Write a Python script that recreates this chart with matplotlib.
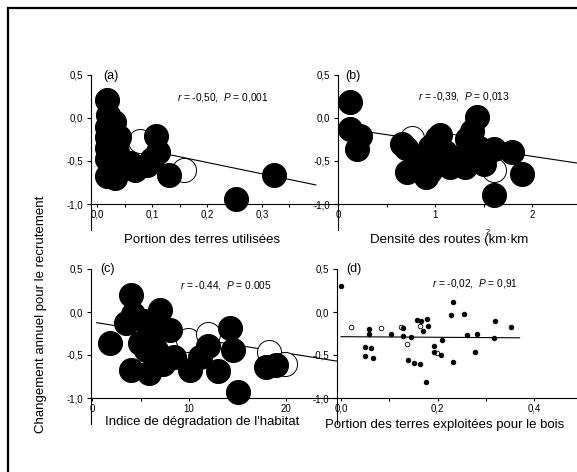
import matplotlib
matplotlib.use('Agg')
import matplotlib.pyplot as plt
from matplotlib.ticker import FixedLocator
from matplotlib.patches import Rectangle
import numpy as np

plt.rcParams['font.family'] = ['Liberation Sans', 'DejaVu Sans']
plt.rcParams['mathtext.fontset'] = 'custom'
plt.rcParams['mathtext.rm'] = 'Liberation Sans'
plt.rcParams['mathtext.it'] = 'Liberation Sans:italic'

# ---------------- data ----------------
# (a) Portion des terres utilisées
a_x_black = [0.017, 0.019, 0.017, 0.017, 0.025, 0.017, 0.030, 0.017, 0.025, 0.017, 0.032, 0.035,
             0.030, 0.035, 0.068, 0.060, 0.107, 0.100, 0.090, 0.110, 0.131, 0.253, 0.321, 0.020, 0.040]
a_y_black = [0.21, 0.03, -0.10, -0.22, -0.15, -0.35, -0.30, -0.48, -0.55, -0.68, -0.70, -0.40,
             -0.05, -0.62, -0.60, -0.52, -0.21, -0.48, -0.55, -0.40, -0.66, -0.94, -0.66, -0.27, -0.22]
a_x_open = [0.077, 0.158]
a_y_open = [-0.27, -0.60]
a_fit = (-0.253, -1.32, 0.01, 0.398)   # intercept, slope, x from, x to

# (b) Densité des routes
b_x_black = [0.12, 0.12, 0.22, 0.19, 0.66, 0.70, 0.71, 0.90, 0.85, 0.95, 1.02, 1.05, 1.15, 1.31,
             1.43, 1.38, 1.45, 1.50, 1.60, 1.79, 1.89, 1.60, 0.95, 1.10, 1.25, 0.80, 1.40, 1.05, 1.33]
b_y_black = [0.19, -0.13, -0.21, -0.36, -0.30, -0.35, -0.63, -0.69, -0.48, -0.34, -0.23, -0.50, -0.57, -0.57,
             0.01, -0.15, -0.35, -0.53, -0.36, -0.40, -0.65, -0.90, -0.62, -0.40, -0.45, -0.55, -0.45, -0.20, -0.25]
b_x_open = [0.76, 1.17, 1.60]
b_y_open = [-0.23, -0.33, -0.61]
b_fit = (-0.11, -0.168, 0.10, 2.9)

# (c) Indice de dégradation de l'habitat
c_x_black = [1.8, 4.05, 3.5, 4.05, 5.3, 5.9, 7.0, 6.3, 4.9, 8.0, 7.3, 8.4, 10.1, 11.1, 12.0,
             14.2, 14.5, 13.0, 15.1, 18.0, 19.0, 5.6, 4.2, 6.6, 5.9]
c_y_black = [-0.36, 0.20, -0.13, -0.67, -0.11, -0.71, 0.02, -0.17, -0.36, -0.21, -0.60, -0.52, -0.67, -0.52, -0.40,
             -0.19, -0.44, -0.69, -0.93, -0.64, -0.62, -0.44, -0.02, -0.44, -0.25]
c_x_open = [9.9, 12.0, 18.3, 19.9]
c_y_open = [-0.33, -0.25, -0.46, -0.60]
c_fit = (-0.116, -0.018, 0.45, 25.3)

# (d) Portion des terres exploitées pour le bois
d_x_black = [0.000, 0.058, 0.058, 0.049, 0.063, 0.050, 0.066, 0.103, 0.129, 0.129, 0.146, 0.139,
             0.151, 0.163, 0.158, 0.165, 0.170, 0.179, 0.180, 0.177, 0.193, 0.193, 0.208, 0.210,
             0.228, 0.232, 0.232, 0.254, 0.262, 0.277, 0.282, 0.318, 0.319, 0.353]
d_y_black = [0.306, -0.20, -0.25, -0.41, -0.42, -0.51, -0.54, -0.25, -0.19, -0.275, -0.29, -0.56,
             -0.59, -0.60, -0.093, -0.11, -0.22, -0.08, -0.16, -0.81, -0.40, -0.465, -0.50, -0.33,
             -0.03, 0.12, -0.58, -0.02, -0.27, -0.465, -0.25, -0.30, -0.11, -0.18]
d_x_open = [0.020, 0.083, 0.124, 0.136, 0.163, 0.198]
d_y_open = [-0.17, -0.19, -0.18, -0.37, -0.16, -0.48]
d_fit = (-0.287, -0.035, 0.0, 0.37)

y_ticks = [0.5, 0.0, -0.5, -1.0]
y_tick_labels = ['0,5', '0,0', '-0,5', '-1,0']

# ---------------- figure ----------------
W, H = 577, 472
fig = plt.figure(figsize=(W / 100, H / 100), dpi=100)
fig.patch.set_facecolor('white')

fig.add_artist(Rectangle((7.5 / W, -0.2), 1.3, 1.2 - 8 / H, transform=fig.transFigure,
                         fill=False, lw=1.6, ec='black'))

TICK_FS = 7
LABEL_FS = 9.5


def make_ax(x0, x1, ytop, ybot, xlim, major, major_labels, minor):
    ax = fig.add_axes([x0 / W, 1 - ybot / H, (x1 - x0) / W, (ybot - ytop) / H])
    ax.set_xlim(xlim)
    ax.set_ylim(-1.3, 0.5)
    ax.patch.set_visible(False)
    ax.spines['top'].set_visible(False)
    ax.spines['right'].set_visible(False)
    ax.spines['bottom'].set_position(('data', -1.0))
    for s in ['left', 'bottom']:
        ax.spines[s].set_linewidth(0.8)
    ax.yaxis.set_major_locator(FixedLocator(y_ticks))
    ax.set_yticklabels(y_tick_labels)
    ax.xaxis.set_major_locator(FixedLocator(major))
    ax.set_xticklabels(major_labels)
    ax.xaxis.set_minor_locator(FixedLocator(minor))
    ax.tick_params(axis='y', direction='out', length=3.0, width=0.8, pad=2.5, labelsize=TICK_FS)
    ax.tick_params(axis='x', which='major', direction='out', length=2.5, width=0.8, pad=1.5, labelsize=TICK_FS)
    ax.tick_params(axis='x', which='minor', direction='out', length=2.0, width=0.8)
    return ax


def draw(ax, xb, yb, xo, yo, fit, s, lw):
    b0, b1, xf0, xf1 = fit
    xs = np.array([xf0, xf1])
    ax.plot(xs, b0 + b1 * xs, color='black', lw=0.8, zorder=2, clip_on=False)
    ax.scatter(xo, yo, s=s, facecolor='white', edgecolor='black', linewidth=lw, zorder=3, clip_on=False)
    ax.scatter(xb, yb, s=s, facecolor='black', edgecolor='black', linewidth=lw, zorder=4, clip_on=False)


big = 300
axa = make_ax(91, 338, 75, 229.8, (-0.0115, 0.4384), [0.0, 0.1, 0.2, 0.3], ['0,0', '0,1', '0,2', '0,3'],
              [0.05, 0.15, 0.25, 0.35])
draw(axa, a_x_black, a_y_black, a_x_open, a_y_open, a_fit, big, 0.7)

axb = make_ax(338, 620, 75, 229.8, (-0.003, 2.904), [0, 1, 2], ['0', '1', '2'], [0.5, 1.5, 2.5])
draw(axb, b_x_black, b_y_black, b_x_open, b_y_open, b_fit, big, 0.7)

axc = make_ax(91, 337, 269, 423.8, (-0.134, 25.3), [0, 10, 20], ['0', '10', '20'], [5, 15])
draw(axc, c_x_black, c_y_black, c_x_open, c_y_open, c_fit, big, 0.7)

axd = make_ax(336.7, 620, 269, 423.8, (-0.0089, 0.578), [0.0, 0.2, 0.4], ['0,0', '0,2', '0,4'], [0.1, 0.3, 0.5])
draw(axd, d_x_black, d_y_black, d_x_open, d_y_open, d_fit, 11, 0.6)


def ftext(px, py, s, **kw):
    fig.text(px / W, 1 - py / H, s, **kw)


# panel letters
ftext(103, 76, '(a)', fontsize=9, va='center', ha='left')
ftext(345, 76, '(b)', fontsize=9, va='center', ha='left')
ftext(100, 269, '(c)', fontsize=9, va='center', ha='left')
ftext(346.7, 269, '(d)', fontsize=9, va='center', ha='left')

# statistics
ftext(222.5, 97.3, r'$r$ = -0,50,  $P$ = 0,001', fontsize=7.3, ha='center', va='center')
ftext(464, 96.7, r'$r$ = -0,39,  $P$ = 0,013', fontsize=7.3, ha='center', va='center')
ftext(226, 286, r'$r$ = -0.44,  $P$ = 0.005', fontsize=7.3, ha='center', va='center')
ftext(475, 283.3, r'$r$ = -0,02,  $P$ = 0,91', fontsize=7.3, ha='center', va='center')

# axis labels
ftext(202, 240, 'Portion des terres utilisées', fontsize=LABEL_FS, ha='center', va='center')
ftext(370, 240, 'Densité des routes (km·km', fontsize=LABEL_FS, ha='left', va='center')
ftext(488, 232, '2', fontsize=5.5, ha='center', va='center')
ftext(202, 421.7, "Indice de dégradation de l'habitat", fontsize=LABEL_FS, ha='center', va='center')
ftext(444.7, 425, 'Portion des terres exploitées pour le bois', fontsize=LABEL_FS, ha='center', va='center')
ftext(41, 314, 'Changement annuel pour le recrutement', fontsize=LABEL_FS, ha='center', va='center',
      rotation=90)

fig.savefig('out.png', dpi=100)
